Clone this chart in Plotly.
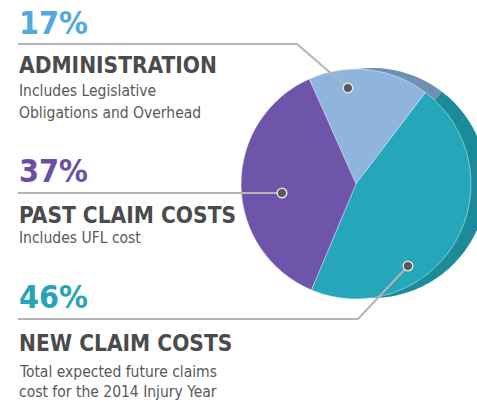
import math
import plotly.graph_objects as go

# ---- data ----
categories = ["ADMINISTRATION", "NEW CLAIM COSTS", "PAST CLAIM COSTS"]
values = [17, 46, 37]
pct_labels = ["17%", "46%", "37%"]
subtitles = {
    "ADMINISTRATION": ["Includes Legislative", "Obligations and Overhead"],
    "PAST CLAIM COSTS": ["Includes UFL cost"],
    "NEW CLAIM COSTS": ["Total expected future claims", "cost for the 2014 Injury Year"],
}

# ---- styles ----
W, H = 477, 401
face_colors = ["#8fb4dd", "#25a6ba", "#6e55a9"]
side_colors = ["#6f90b1", "#1b8a99", "#4e3c82"]
pct_colors = {"ADMINISTRATION": "#52a9de", "PAST CLAIM COSTS": "#6b4fa7", "NEW CLAIM COSTS": "#27a4b6"}
head_color = "#4b4b4d"
sub_color = "#58585a"
line_color = "#b5b5b5"
NARROW = "DejaVu Sans Condensed, Liberation Sans Narrow, sans-serif"

# pie geometry (pixels)
cx, cy, r = 356, 184, 115
rotation = -24
side_dx, side_dy = 16, -1

fig = go.Figure()

# hidden pixel-mapped axes for annotations/shapes
fig.add_trace(go.Scatter(x=[0, W], y=[0, H], mode="markers", marker=dict(opacity=0),
                         hoverinfo="skip", showlegend=False))

fig.add_trace(go.Pie(
    labels=categories, values=values, sort=False, direction="clockwise",
    rotation=rotation, textinfo="none", hoverinfo="label+percent",
    marker=dict(colors=face_colors, line=dict(color="rgba(255,255,255,0.55)", width=0.8)),
    domain=dict(x=[(cx - r) / W, (cx + r) / W], y=[(H - cy - r) / H, (H - cy + r) / H]),
    showlegend=False,
))

shapes = []
# 3D side: wedges of the same data, offset behind the face
total = sum(values)
start = rotation
bx, by = cx + side_dx, cy + side_dy
for v, col in zip(values, side_colors):
    a0 = start
    a1 = start + 360 * v / total
    n = max(4, int((a1 - a0) / 2))
    pts = [(bx, by)]
    for i in range(n + 1):
        a = math.radians(a0 + (a1 - a0) * i / n)
        pts.append((bx + r * math.sin(a), by - r * math.cos(a)))
    path = "M " + " L ".join(f"{x:.2f},{y:.2f}" for x, y in pts) + " Z"
    shapes.append(dict(type="path", path=path, xref="x", yref="y", layer="below",
                       fillcolor=col, line=dict(width=0)))
    start = a1

# leader lines and anchor dots
leaders = {
    "ADMINISTRATION": [(18, 44), (297, 44), (348, 88)],
    "PAST CLAIM COSTS": [(18, 193), (282, 193)],
    "NEW CLAIM COSTS": [(18, 319), (358, 319), (408, 266)],
}
for name, pts in leaders.items():
    path = "M " + " L ".join(f"{x},{y}" for x, y in pts)
    shapes.append(dict(type="path", path=path, xref="x", yref="y", layer="above",
                       line=dict(color=line_color, width=2)))
    ex, ey = pts[-1]
    rr = 4.8
    shapes.append(dict(type="circle", xref="x", yref="y", layer="above",
                       x0=ex - rr, x1=ex + rr, y0=ey - rr, y1=ey + rr,
                       fillcolor="#58595b", line=dict(color="#e0e0e0", width=1.5)))

# text blocks
blocks = {
    "ADMINISTRATION": dict(pct_y=23, head_y=65, sub_y=[91, 113]),
    "PAST CLAIM COSTS": dict(pct_y=171, head_y=215, sub_y=[238]),
    "NEW CLAIM COSTS": dict(pct_y=297, head_y=342.5, sub_y=[372, 392]),
}
annotations = []
for name, pct in zip(categories, pct_labels):
    b = blocks[name]
    annotations.append(dict(x=17, y=b["pct_y"], xref="x", yref="y", text=f"<b>{pct}</b>",
                            showarrow=False, xanchor="left", yanchor="middle",
                            font=dict(family=NARROW, size=32, color=pct_colors[name])))
    annotations.append(dict(x=17, y=b["head_y"], xref="x", yref="y", text=f"<b>{name}</b>",
                            showarrow=False, xanchor="left", yanchor="middle",
                            font=dict(family=NARROW, size=22.5, color=head_color)))
    for line, yy in zip(subtitles[name], b["sub_y"]):
        annotations.append(dict(x=17, y=yy, xref="x", yref="y", text=line,
                                showarrow=False, xanchor="left", yanchor="middle",
                                font=dict(family=NARROW, size=15.5, color=sub_color)))

fig.update_layout(
    width=W, height=H, margin=dict(l=0, r=0, t=0, b=0),
    paper_bgcolor="white", plot_bgcolor="rgba(0,0,0,0)",
    xaxis=dict(range=[0, W], visible=False, fixedrange=True),
    yaxis=dict(range=[H, 0], visible=False, fixedrange=True),
    shapes=shapes, annotations=annotations, showlegend=False,
)

fig.write_html("out.html", config={"displayModeBar": False},
               post_script="document.body.style.margin='0';document.body.style.overflow='hidden';")
